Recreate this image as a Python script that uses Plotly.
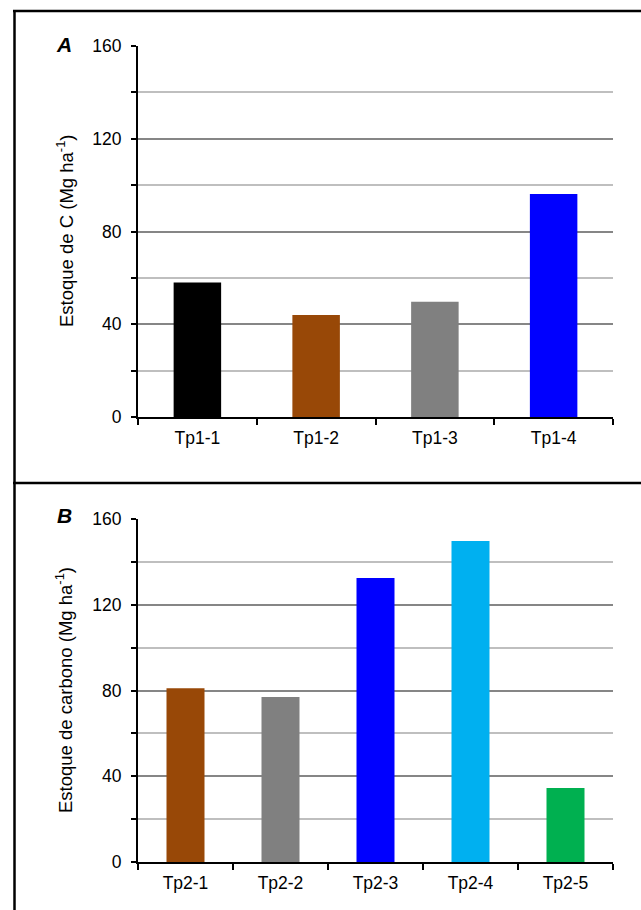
import plotly.graph_objects as go

# Data
cats_a = ["Tp1-1", "Tp1-2", "Tp1-3", "Tp1-4"]
vals_a = [58, 44, 49.7, 96.2]
colors_a = ["#000000", "#984807", "#808080", "#0000FF"]

cats_b = ["Tp2-1", "Tp2-2", "Tp2-3", "Tp2-4", "Tp2-5"]
vals_b = [81, 77, 132.5, 149.7, 34.5]
colors_b = ["#984807", "#808080", "#0000FF", "#00B0F0", "#00B050"]

ytitle_a = "Estoque de C (Mg ha<sup>-1</sup>)"
ytitle_b = "Estoque de carbono (Mg ha<sup>-1</sup>)"
panel_a = "A"
panel_b = "B"

W, H = 641, 910
FONT = "Liberation Sans, Arial, sans-serif"

def px_x(x):
    return x / W

def px_y(y):
    return 1 - y / H

fig = go.Figure()
fig.add_trace(go.Bar(x=cats_a, y=vals_a, marker=dict(color=colors_a, line=dict(width=0)),
                     xaxis="x", yaxis="y", showlegend=False, hoverinfo="skip"))
fig.add_trace(go.Bar(x=cats_b, y=vals_b, marker=dict(color=colors_b, line=dict(width=0)),
                     xaxis="x2", yaxis="y2", showlegend=False, hoverinfo="skip"))

xdom = [px_x(138), px_x(613)]

def yax(dom, anchor):
    return dict(
        domain=dom, anchor=anchor, range=[0, 160], tickvals=[0, 40, 80, 120, 160],
        showgrid=True, gridcolor="#868686", gridwidth=2,
        minor=dict(dtick=20, tick0=0, showgrid=True, gridcolor="#BFBFBF", gridwidth=2,
                   ticks="outside", ticklen=5, tickcolor="black", tickwidth=2),
        ticks="outside", ticklen=5, tickcolor="black", tickwidth=2,
        showline=True, linecolor="black", linewidth=2,
        ticklabelstandoff=6,
        tickfont=dict(family=FONT, size=17.5, color="black"),
        zeroline=False, fixedrange=True,
    )

def xax(anchor):
    return dict(
        domain=xdom, anchor=anchor, showline=True, linecolor="black", linewidth=2,
        ticks="outside", tickson="boundaries", ticklen=6, tickcolor="black", tickwidth=2,
        ticklabelstandoff=4,
        tickfont=dict(family=FONT, size=17.5, color="black"), showgrid=False,
        fixedrange=True,
    )

fig.update_layout(
    width=W, height=H, margin=dict(l=0, r=0, t=0, b=0, autoexpand=False),
    paper_bgcolor="white", plot_bgcolor="white",
    bargap=0.6,
    xaxis=xax("y"), yaxis=yax([px_y(417), px_y(46)], "x"),
    xaxis2=xax("y2"), yaxis2=yax([px_y(862), px_y(519)], "x2"),
    font=dict(family=FONT, size=15, color="black"),
    annotations=[
        dict(text=ytitle_a, x=px_x(65), y=px_y(231), xref="paper", yref="paper",
             textangle=-90, showarrow=False, xanchor="center", yanchor="middle",
             font=dict(family=FONT, size=18.5, color="black")),
        dict(text=ytitle_b, x=px_x(64), y=px_y(690), xref="paper", yref="paper",
             textangle=-90, showarrow=False, xanchor="center", yanchor="middle",
             font=dict(family=FONT, size=18.5, color="black")),
        dict(text="<b><i>" + panel_a + "</i></b>", x=px_x(64), y=px_y(44), xref="paper", yref="paper",
             showarrow=False, xanchor="center", yanchor="middle",
             font=dict(family=FONT, size=21, color="black")),
        dict(text="<b><i>" + panel_b + "</i></b>", x=px_x(64), y=px_y(515), xref="paper", yref="paper",
             showarrow=False, xanchor="center", yanchor="middle",
             font=dict(family=FONT, size=21, color="black")),
    ],
    shapes=[
        dict(type="line", xref="paper", yref="paper", x0=px_x(14.5), x1=px_x(14.5), y0=0, y1=px_y(10),
             line=dict(color="black", width=2.5)),
        dict(type="line", xref="paper", yref="paper", x0=px_x(13), x1=1, y0=px_y(11), y1=px_y(11),
             line=dict(color="black", width=2.5)),
        dict(type="line", xref="paper", yref="paper", x0=px_x(13), x1=1, y0=px_y(483), y1=px_y(483),
             line=dict(color="black", width=2.5)),
    ],
)

fig.write_html(
    "out.html",
    config={"displayModeBar": False, "staticPlot": True},
    post_script=(
        "document.documentElement.style.margin='0';"
        "document.body.style.margin='0';"
        "document.body.style.overflow='hidden';"
        "var d=document.getElementById('{plot_id}');"
        "d.style.position='fixed';d.style.top='0px';d.style.left='0px';"
    ),
)
